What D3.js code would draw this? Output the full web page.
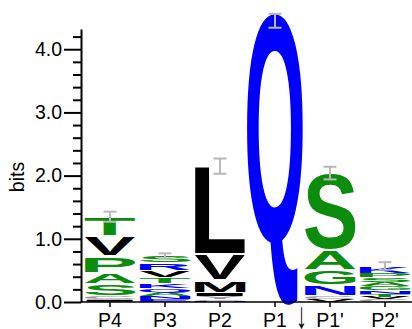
<!DOCTYPE html>
<html>
<head>
<meta charset="utf-8">
<script src="https://cdn.jsdelivr.net/npm/d3@7"></script>
<style>
  body { margin: 0; background: #fff; }
  text { font-family: "Liberation Sans", Arial, sans-serif; }
</style>
</head>
<body>
<svg id="logo" width="412" height="329"></svg>
<script>
// positions along the site, cleavage between P1 and P1'
const positions = ["P4", "P3", "P2", "P1", "P1'", "P2'"];

// letter stacks, bottom to top, heights in bits
const stackP4 = [["I", 0.04], ["C", 0.05], ["S", 0.19], ["A", 0.18], ["P", 0.27], ["V", 0.31], ["T", 0.31]];
const stackP3 = [["E", 0.04], ["N", 0.05], ["A", 0.06], ["Q", 0.06], ["K", 0.08], ["T", 0.10], ["V", 0.11], ["R", 0.12], ["S", 0.11]];
const stackP2 = [["N", 0.02], ["C", 0.03], ["Y", 0.04], ["I", 0.06], ["M", 0.19], ["V", 0.42], ["L", 1.39]];
const stackP1 = [["Q", 4.45]];
const stackP1p = [["V", 0.04], ["C", 0.05], ["N", 0.17], ["G", 0.24], ["A", 0.32], ["S", 1.22]];
const stackP2p = [["C", 0.04], ["V", 0.04], ["T", 0.05], ["N", 0.05], ["G", 0.06], ["A", 0.07], ["S", 0.08], ["P", 0.06], ["K", 0.12]];
const stacks = [stackP4, stackP3, stackP2, stackP1, stackP1p, stackP2p];

// error of each stack height, bits
const errors = [0.08, 0.04, 0.12, 0.11, 0.10, 0.06];

const yTicksMajor = [0, 1, 2, 3, 4];
const yTicksMinor = d3.range(0, 4.3, 0.2).filter(t => Math.abs(t - Math.round(t)) > 0.01);

const green = "#0c8c0c", blue = "#0000ff", black = "#000000", grey = "#9c9c9c";
const letterColour = {
  S: green, T: green, A: green, P: green, G: green,
  Q: blue, N: blue, K: blue, R: blue, E: blue,
  V: black, L: black, M: black, I: black, F: black,
  C: grey, Y: grey
};

const svg = d3.select("#logo");

const y = d3.scaleLinear()
  .domain([0, 4.32])
  .range([302, 29]);

const x = d3.scaleBand()
  .domain(positions)
  .range([82.5, 412.5]);

// tight glyph bounds from a canvas, so letters fill their boxes
const ctx = document.createElement("canvas").getContext("2d");
ctx.font = "bold 100px 'Liberation Sans'";
function glyphBox(ch) {
  const m = ctx.measureText(ch);
  return {l: m.actualBoundingBoxLeft, r: m.actualBoundingBoxRight,
          a: m.actualBoundingBoxAscent, d: m.actualBoundingBoxDescent};
}

const logo = svg.append("g");

stacks.forEach((stack, i) => {
  const pos = positions[i];
  let base = 0;
  stack.forEach(([ch, v]) => {
    const y0 = y(base + v), y1 = y(base);
    base += v;
    const h = y1 - y0;
    const pad = Math.min(1.2, h * 0.08);
    let top = y0 + pad, bh = h - 2 * pad;
    let left = x(pos) + 2, w = x.bandwidth() - 4;
    if (ch === "Q" && h > 100) {
      // the big Q runs a little past its box, as in the original
      top -= h * 0.03; bh += h * 0.048;
      left -= 2.5; w += 5;
    }
    const b = glyphBox(ch);
    logo.append("text")
      .text(ch)
      .attr("font-size", 100)
      .attr("font-weight", "bold")
      .attr("x", b.l)
      .attr("y", b.a)
      .attr("fill", letterColour[ch])
      .attr("transform", `translate(${left},${top}) scale(${w / (b.l + b.r)},${bh / (b.a + b.d)})`);
  });
});

// error bars
stacks.forEach((stack, i) => {
  const total = d3.sum(stack, d => d[1]);
  const cx = x(positions[i]) + x.bandwidth() / 2;
  const t = y(total + errors[i]), bt = y(total - errors[i]);
  const eb = svg.append("g").attr("stroke", "#b8b8b8").attr("stroke-width", 2);
  eb.append("line").attr("x1", cx).attr("x2", cx).attr("y1", t).attr("y2", bt);
  eb.append("line").attr("x1", cx - 6.5).attr("x2", cx + 6.5).attr("y1", t).attr("y2", t);
  eb.append("line").attr("x1", cx - 6.5).attr("x2", cx + 6.5).attr("y1", bt).attr("y2", bt);
});

// y axis
svg.append("g")
  .attr("transform", "translate(81,0)")
  .call(d3.axisLeft(y).tickValues(yTicksMinor).tickSize(8).tickSizeOuter(0).tickFormat(""))
  .call(g => g.selectAll("line").attr("stroke-width", 2))
  .call(g => g.select(".domain").attr("stroke-width", 2));

svg.append("g")
  .attr("transform", "translate(81,0)")
  .call(d3.axisLeft(y).tickValues(yTicksMajor).tickSize(17).tickSizeOuter(0).tickPadding(2).tickFormat(d3.format(".1f")))
  .call(g => g.select(".domain").remove())
  .call(g => g.selectAll("line").attr("stroke-width", 2))
  .call(g => g.selectAll("text").attr("font-size", 19.5).attr("font-family", "Liberation Sans"));

svg.append("text")
  .attr("transform", "translate(24,177) rotate(-90)")
  .attr("text-anchor", "middle")
  .attr("font-size", 19.5)
  .text("bits");

// x axis
svg.append("g")
  .attr("transform", "translate(0,302)")
  .call(d3.axisBottom(x).tickSize(5).tickSizeOuter(0).tickPadding(6))
  .call(g => g.select(".domain").attr("d", "M81,0H412").attr("stroke-width", 1.5))
  .call(g => g.selectAll("line").attr("stroke-width", 1.5))
  .call(g => g.selectAll("text").attr("font-size", 19.5).attr("font-family", "Liberation Sans"));

// cleavage arrow, drawn tall and narrow
svg.append("text")
  .attr("transform", `translate(${x("P1'") - 1},328) scale(1.1,1.85)`)
  .attr("text-anchor", "middle")
  .attr("font-size", 20)
  .attr("fill", "#000")
  .text("\u2193");
</script>
</body>
</html>
